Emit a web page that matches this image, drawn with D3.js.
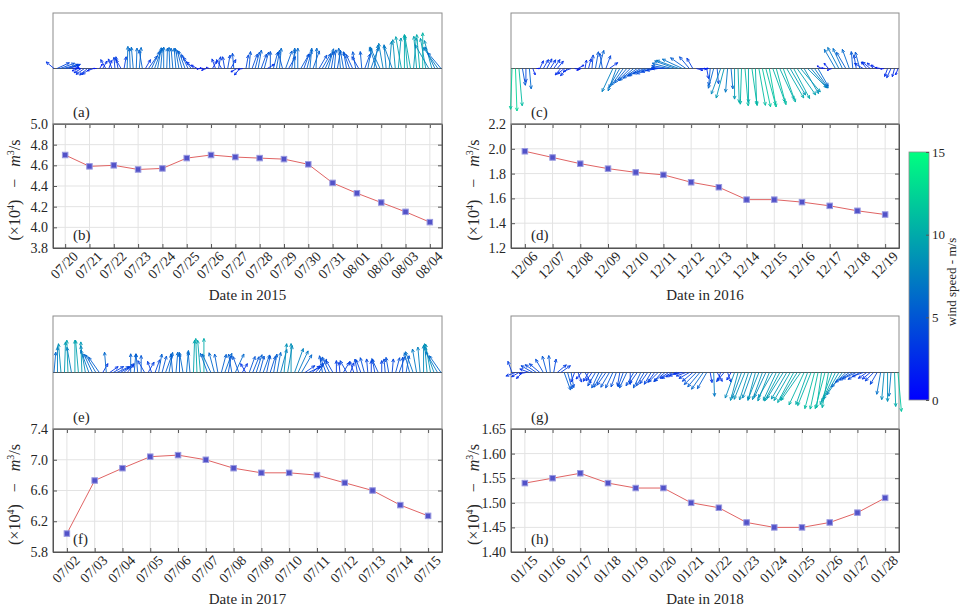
<!DOCTYPE html>
<html>
<head>
<meta charset="utf-8">
<script src="https://cdn.jsdelivr.net/npm/d3@7"></script>
<style>
body { margin: 0; background: #fff; }
text { font-family: "Liberation Serif", "Times New Roman", serif; fill: #262626; }
</style>
</head>
<body>
<svg id="chart" width="963" height="607"></svg>
<script>
// daily discharge (x10^4 m3/s)
const datesA = ["07/20","07/21","07/22","07/23","07/24","07/25","07/26","07/27","07/28","07/29","07/30","07/31","08/01","08/02","08/03","08/04"];
const flowA = [4.70,4.59,4.60,4.56,4.57,4.67,4.70,4.68,4.67,4.66,4.61,4.43,4.33,4.24,4.15,4.05];
const datesC = ["12/06","12/07","12/08","12/09","12/10","12/11","12/12","12/13","12/14","12/15","12/16","12/17","12/18","12/19"];
const flowC = [1.98,1.93,1.88,1.84,1.81,1.79,1.73,1.69,1.59,1.59,1.57,1.54,1.50,1.47];
const datesE = ["07/02","07/03","07/04","07/05","07/06","07/07","07/08","07/09","07/10","07/11","07/12","07/13","07/14","07/15"];
const flowE = [6.04,6.73,6.89,7.04,7.06,7.00,6.89,6.83,6.83,6.80,6.70,6.60,6.41,6.27];
const datesG = ["01/15","01/16","01/17","01/18","01/19","01/20","01/21","01/22","01/23","01/24","01/25","01/26","01/27","01/28"];
const flowG = [1.54,1.55,1.56,1.54,1.53,1.53,1.50,1.49,1.46,1.45,1.45,1.46,1.48,1.51];

const yTicksA = [3.8,4.0,4.2,4.4,4.6,4.8,5.0];
const yTicksC = [1.2,1.4,1.6,1.8,2.0,2.2];
const yTicksE = [5.8,6.2,6.6,7.0,7.4];
const yTicksG = [1.40,1.45,1.50,1.55,1.60,1.65];

// 3-hourly wind: speed (m/s) and direction the arrow points (deg, 0 = east, 90 = north)
const windA_spd = [
  3,4,4.5,4.5,4,3.5,2,1.5,   2,2.5,3,3,3,2,1,1.5,
  2.5,3,2.5,3,3.3,3.5,3,3.5, 6.5,6,6.3,6,6.2,5.5,3,4.5,
  5.5,6,6.2,6,6.3,6,6.2,6,   6,6,5.5,5.5,4.5,4,3,2,
  1,1,1.5,1,2.5,3,3.5,3,     3.5,4,3,4.5,2,2.5,1.5,4,
  5,4.5,5,5.5,4.5,5,2.5,5,   5,5.5,6,5,5.5,4,5.5,6,
  6,5,4.5,5.5,6,5.5,6,4.5,   5,5.5,6,5,5.5,5,6,5.5,
  5,5,4.5,5,4,5,4.5,6,       6.5,7,6.5,7,7.5,7,8,7,
  8.5,9,9.5,10,9.5,10,9,9.5, 10,10.5,9,8,8.5,7,7.5,6
];
const windA_dir = [
  140,25,20,15,15,20,10,0,     200,210,215,220,215,200,180,60,
  60,120,70,110,95,100,120,80, 88,92,95,88,85,100,60,55,
  65,70,80,85,90,88,92,95,     95,100,105,110,115,125,140,150,
  190,170,200,160,60,110,80,120, 100,80,60,95,210,230,190,80,
  85,70,75,80,70,75,30,90,     75,80,85,105,70,60,80,90,
  90,60,70,75,85,70,88,60,     60,65,75,80,85,80,95,100,
  100,110,115,100,120,95,70,80, 70,80,110,115,100,95,85,110,
  95,85,100,90,95,100,85,95,   95,90,100,120,105,115,125,130
];
const windC_spd = [
  12,12.5,11,5,4,6,2,1,        2.5,3,3.2,3,3.2,2.8,2.5,2.5,
  3,2.5,1.5,2,1.5,2.5,3,4,     5,5.5,4.5,4,3,7.5,7,6.5,
  6,5.5,5,5.5,5,4.5,5,4.5,     4.5,4,3.5,3,4,5,6,6.5,
  7,6.5,5.5,4.5,3.5,2,2,1.5,   3,5,6,4.5,8,9,7,6,
  9,10,10.5,11,10,11,10.5,11,  11.5,11,11.5,10.5,11,10,10.5,10,
  9,10,9.5,9,8.5,8,7.5,7,      6,1.5,1,2,1.5,6.5,7,6.5,
  5.5,6,5,4,5,3,2.5,3,         2.5,2,1.5,1,2.5,3,2.5,2
];
const windC_dir = [
  268,272,275,280,270,275,290,0,   65,60,62,58,55,50,230,220,
  225,200,350,30,200,80,75,85,     80,75,100,70,35,245,250,240,
  235,230,225,220,215,210,205,200, 200,195,190,180,175,170,165,160,
  160,155,145,130,120,345,355,0,   280,265,255,275,250,255,265,275,
  270,272,268,275,270,278,272,280, 282,285,280,290,285,295,290,300,
  300,298,305,310,300,315,310,305, 300,150,170,130,200,120,118,115,
  120,110,95,100,105,150,130,140,  140,150,170,190,250,245,255,250
];
const windE_spd = [
  6,7.5,8.5,9,9.5,7.5,9.5,9.5, 9,8,7,6,6,5.5,3,6,
  3,3.5,4,3.5,4,3,5.5,5.5,     5.5,5,4,3.5,3.5,4,5.5,5,
  5.5,6,5.5,6,5.5,6,6.5,6,     9.5,10,9.5,10,6,6,6,5.5,
  5.5,6,5,5.5,6,5,3,3,         5,5,5.5,5,5.5,5,5,5.5,
  6,7,8.5,8,8.5,7.5,7,6,       3.5,4,3,3.5,4.5,5,4.5,5,
  4,3.5,3,3.5,4,3,3.5,4,       4,4.5,4,3.5,4,4.5,3.5,4,
  4.5,4,4.5,5,4.5,5,6,6.5,     7,7.5,8,8.5,8.5,8,7,6
];
const windE_dir = [
  85,90,95,88,92,100,90,95,    92,100,110,115,120,125,60,95,
  35,30,25,30,40,50,90,85,     95,90,120,60,110,70,80,75,
  70,80,95,85,90,100,85,95,    88,92,95,90,110,115,105,100,
  75,70,80,100,65,110,60,120,  70,68,72,75,70,78,72,80,
  80,75,85,80,90,70,65,60,     35,25,40,50,60,100,110,115,
  120,90,95,60,120,70,110,100, 110,105,95,90,100,115,90,95,
  100,85,75,70,90,80,105,110,  100,95,90,95,100,110,120,125
];
const windG_spd = [
  3.5,3,2.5,2.5,2,3,4,4,       4,4.5,5,5,4,3.5,3.5,5.5,
  5,4.5,3,3,2.5,3.5,3,3,       4.5,5,5,4.5,5,5,4.5,4,
  4.5,5,3.5,4.5,4,5,4.5,4,     4,3.5,4,3.5,4,3,3.5,3,
  3,2.5,3,3.5,4,5,5.5,6,       5.5,3,7,3,2.5,3.5,3,2.5,
  8,8.5,8,8.5,8.5,8,8.5,8.5,   8.5,8,9,8.5,9,9.5,9,9,
  9.5,10,9.5,10,10.5,10,10.5,11, 11,10.5,11,10.5,10,9.5,9,8,
  6,5,4.5,4.5,4,3.5,3,3,       3.5,4,6.5,8,8.5,7,10,11.5
];
const windG_dir = [
  110,200,210,225,190,160,150,145, 140,120,105,95,80,40,35,290,
  285,280,250,290,230,300,240,235, 240,245,240,235,240,245,250,260,
  250,245,270,240,235,245,240,235, 240,235,225,230,220,215,210,205,
  200,190,200,210,220,225,230,235, 240,280,272,300,250,230,290,240,
  250,255,250,248,252,250,255,248, 250,245,248,240,245,242,238,240,
  240,242,238,235,245,250,248,255, 258,262,255,260,250,245,240,235,
  225,215,210,205,210,200,215,220, 225,240,260,265,270,265,272,275
];

const speedTicks = [0,5,10,15];

const FONT = "'Liberation Serif', 'Times New Roman', Times, serif";
const svg = d3.select("#chart");
const color = d3.scaleLinear().domain([0,15]).range(["rgb(0,0,255)","rgb(0,255,128)"]).clamp(true);
const arrowK = 3.4;

let panels = [
  {x0:53, x1:442, qTop:13, lTop:124, lBot:248, dates:datesA, flow:flowA, yTicks:yTicksA, fmt:".1f", spd:windA_spd, dir:windA_dir, qLab:"(a)", lLab:"(b)", year:"2015", labX:20},
  {x0:511, x1:899, qTop:13, lTop:124, lBot:248, dates:datesC, flow:flowC, yTicks:yTicksC, fmt:".1f", spd:windC_spd, dir:windC_dir, qLab:"(c)", lLab:"(d)", year:"2016", labX:479},
  {x0:53, x1:442, qTop:316, lTop:429, lBot:552, dates:datesE, flow:flowE, yTicks:yTicksE, fmt:".1f", spd:windE_spd, dir:windE_dir, qLab:"(e)", lLab:"(f)", year:"2017", labX:20},
  {x0:511, x1:899, qTop:316, lTop:429, lBot:552, dates:datesG, flow:flowG, yTicks:yTicksG, fmt:".2f", spd:windG_spd, dir:windG_dir, qLab:"(g)", lLab:"(h)", year:"2018", labX:479}
];

function drawQuiver(g, p){
  let mid = (p.qTop + p.lTop) / 2;
  g.append("rect")
    .attr("x", p.x0).attr("y", p.qTop)
    .attr("width", p.x1 - p.x0).attr("height", p.lTop - p.qTop)
    .attr("fill", "none").attr("stroke", "#8c8c8c");

  let n = p.spd.length;
  let qx = d3.scaleLinear().domain([0, n - 1]).range([p.x0 + 1, p.x1 - 1]);
  let vecs = p.spd.map((s, i) => {
    let a = p.dir[i] * Math.PI / 180;
    return {x: qx(i), dx: s * arrowK * Math.cos(a), dy: -s * arrowK * Math.sin(a), s: s};
  });

  g.append("line")
    .attr("x1", p.x0).attr("x2", p.x1)
    .attr("y1", mid).attr("y2", mid)
    .attr("stroke", "#5a5a5a").attr("stroke-width", 1);

  let arrows = g.append("g").selectAll("g").data(vecs).enter().append("g")
    .attr("stroke", d => color(d.s)).attr("fill", "none").attr("stroke-width", 0.9);

  arrows.append("line")
    .attr("x1", d => d.x).attr("y1", mid)
    .attr("x2", d => d.x + d.dx).attr("y2", d => mid + d.dy);

  // open V head
  arrows.append("path")
    .attr("d", d => {
      let L = Math.hypot(d.dx, d.dy);
      if (L < 0.5) return "";
      let ux = d.dx / L, uy = d.dy / L;
      let h = Math.min(3.2, L * 0.3), w = h * 0.45;
      let tx = d.x + d.dx, ty = mid + d.dy;
      let bx = tx - ux * h, by = ty - uy * h;
      return `M${bx - uy * w},${by + ux * w}L${tx},${ty}L${bx + uy * w},${by - ux * w}`;
    });

  g.append("text")
    .attr("x", p.x0 + 20).attr("y", p.lTop - 7)
    .style("font-size", "15px")
    .text(p.qLab);
}

function drawLine(g, p){
  let x = d3.scalePoint().domain(p.dates).range([p.x0, p.x1]).padding(0.5);
  let y = d3.scaleLinear().domain(d3.extent(p.yTicks)).range([p.lBot, p.lTop]);

  // grid
  g.append("g").selectAll("line").data(p.dates).enter().append("line")
    .attr("x1", d => x(d)).attr("x2", d => x(d))
    .attr("y1", p.lTop).attr("y2", p.lBot)
    .attr("stroke", "#e3e3e3");
  g.append("g").selectAll("line").data(p.yTicks).enter().append("line")
    .attr("x1", p.x0).attr("x2", p.x1)
    .attr("y1", d => y(d)).attr("y2", d => y(d))
    .attr("stroke", "#e3e3e3");

  // axes
  let axB = g.append("g").attr("transform", `translate(0,${p.lBot})`)
    .call(d3.axisBottom(x).tickSize(-4).tickSizeOuter(0).tickPadding(6));
  axB.selectAll("text")
    .style("font-size", "14px")
    .attr("text-anchor", "end")
    .attr("dy", "0.3em")
    .attr("transform", "translate(6,2) rotate(-45)");
  g.append("g").attr("transform", `translate(0,${p.lTop})`)
    .call(d3.axisTop(x).tickSize(-4).tickSizeOuter(0).tickFormat(""));
  g.append("g").attr("transform", `translate(${p.x0},0)`)
    .call(d3.axisLeft(y).tickValues(p.yTicks).tickFormat(d3.format(p.fmt)).tickSize(-4).tickSizeOuter(0).tickPadding(5))
    .selectAll("text").style("font-size", "14px");
  g.append("g").attr("transform", `translate(${p.x1},0)`)
    .call(d3.axisRight(y).tickValues(p.yTicks).tickFormat("").tickSize(-4).tickSizeOuter(0));
  g.selectAll(".domain, .tick line").attr("stroke", "#555");

  g.append("rect")
    .attr("x", p.x0).attr("y", p.lTop)
    .attr("width", p.x1 - p.x0).attr("height", p.lBot - p.lTop)
    .attr("fill", "none").attr("stroke", "#555");

  // series
  let line = d3.line().x((d, i) => x(p.dates[i])).y(d => y(d));
  g.append("path").datum(p.flow)
    .attr("d", line)
    .attr("fill", "none").attr("stroke", "#e06464").attr("stroke-width", 1);
  g.append("g").selectAll("rect").data(p.flow).enter().append("rect")
    .attr("x", (d, i) => x(p.dates[i]) - 2.75).attr("y", d => y(d) - 2.75)
    .attr("width", 5.5).attr("height", 5.5)
    .attr("fill", "#5252c8").attr("stroke", "#9a9ae0").attr("stroke-width", 1);

  g.append("text")
    .attr("x", p.x0 + 20).attr("y", p.lBot - 8)
    .style("font-size", "15px")
    .text(p.lLab);

  g.append("text")
    .attr("x", (p.x0 + p.x1) / 2).attr("y", p.lBot + 52)
    .attr("text-anchor", "middle")
    .style("font-size", "15px")
    .text("Date in " + p.year);

  // y label
  let lab = g.append("text")
    .attr("transform", `translate(${p.labX},${(p.lTop + p.lBot) / 2 + 4}) rotate(-90)`)
    .attr("text-anchor", "middle")
    .style("font-size", "16px");
  lab.append("tspan").text("(×10");
  lab.append("tspan").attr("dy", -6).style("font-size", "10px").text("4");
  lab.append("tspan").attr("dy", 6).text(")\u2002 \u2212 \u2002");
  lab.append("tspan").style("font-style", "italic").text("m");
  lab.append("tspan").attr("dy", -6).style("font-size", "10px").text("3");
  lab.append("tspan").attr("dy", 6).text("/s");
}

panels.forEach(p => {
  let g = svg.append("g");
  drawLine(g, p);
  drawQuiver(g, p);
});

// colorbar
const cb = {x: 909, w: 20, top: 152, bot: 400};
let defs = svg.append("defs");
let grad = defs.append("linearGradient").attr("id", "cbgrad")
  .attr("x1", 0).attr("x2", 0).attr("y1", 1).attr("y2", 0);
grad.selectAll("stop").data(speedTicks).enter().append("stop")
  .attr("offset", d => d / 15)
  .attr("stop-color", d => color(d));
svg.append("rect")
  .attr("x", cb.x).attr("y", cb.top)
  .attr("width", cb.w).attr("height", cb.bot - cb.top)
  .attr("fill", "url(#cbgrad)").attr("stroke", "#8c8c8c").attr("stroke-width", 0.8);
let cy = d3.scaleLinear().domain([0, 15]).range([cb.bot, cb.top]);
let cax = svg.append("g").attr("transform", `translate(${cb.x + cb.w},0)`)
  .call(d3.axisRight(cy).tickValues(speedTicks).tickSize(-3).tickPadding(3));
cax.select(".domain").remove();
cax.selectAll(".tick line").attr("stroke", "#555");
cax.selectAll("text").style("font-size", "13px");
svg.append("text")
  .attr("transform", `translate(951,282) rotate(-90)`)
  .attr("text-anchor", "middle")
  .attr("dy", "0.35em")
  .style("font-size", "13px")
  .text("wind speed - m/s");

// serif everywhere, as in the original figure
svg.selectAll("text").style("font-family", FONT).style("fill", "#262626");
</script>
</body>
</html>
